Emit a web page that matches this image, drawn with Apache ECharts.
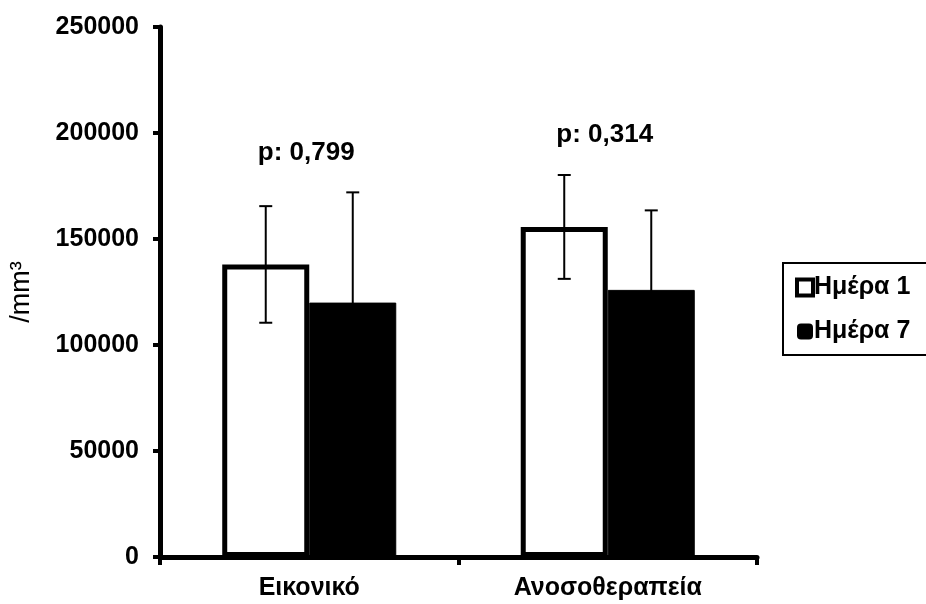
<!DOCTYPE html>
<html>
<head>
<meta charset="utf-8">
<script src="https://cdn.jsdelivr.net/npm/echarts@6/dist/echarts.min.js"></script>
<style>
  html, body { margin: 0; padding: 0; background: #fff; }
  #chart { width: 926px; height: 604px; }
</style>
</head>
<body>
<div id="chart"></div>
<script>
// Groups on the x axis
const categories = ['Εικονικό', 'Ανοσοθεραπεία'];
// Legend / series names
const seriesNames = ['Ημέρα 1', 'Ημέρα 7'];
// Mean values (/mm³)
const day1Values = [138000, 155700];
const day7Values = [120000, 126000];
// Standard deviations (error bars)
const day1Errors = [27500, 24500];
const day7Errors = [52000, 37500];
// p-values shown above each group
const pLabels = ['p: 0,799', 'p: 0,314'];
// Y axis tick range
const yTicks = [0, 50000, 100000, 150000, 200000, 250000];

const FONT = '"Liberation Sans", Arial, sans-serif';
const BAR_PCT = 29.15; // each bar's share of a category band

const chart = echarts.init(document.getElementById('chart'), null, { renderer: 'canvas' });

// Error bars + p-value text, drawn per category
function renderErrors(params, api) {
  const idx = api.value(0);
  const band = api.size([1, 0])[0];
  const half = band * BAR_PCT / 100 / 2;
  const center = api.coord([idx, 0])[0];
  const groups = [
    { x: center - half, mean: day1Values[idx], err: day1Errors[idx] },
    { x: center + half, mean: day7Values[idx], err: day7Errors[idx] }
  ];
  const children = [];
  const capW = 6.5;
  let topY = Infinity;
  groups.forEach(g => {
    const yHi = api.coord([idx, g.mean + g.err])[1];
    const yLo = api.coord([idx, g.mean - g.err])[1];
    topY = Math.min(topY, yHi);
    const style = { stroke: '#000', lineWidth: 2 };
    children.push({ type: 'line', shape: { x1: g.x, y1: yHi, x2: g.x, y2: yLo }, style });
    children.push({ type: 'line', shape: { x1: g.x - capW, y1: yHi, x2: g.x + capW, y2: yHi }, style });
    children.push({ type: 'line', shape: { x1: g.x - capW, y1: yLo, x2: g.x + capW, y2: yLo }, style });
  });
  children.push({
    type: 'text',
    style: {
      x: center - 3, y: topY - 40,
      text: pLabels[idx],
      fill: '#000',
      font: 'bold 26px ' + FONT,
      align: 'center', verticalAlign: 'middle'
    }
  });
  return { type: 'group', children };
}

chart.setOption({
  backgroundColor: '#fff',
  animation: false,
  grid: { left: 160, right: 169, top: 27, bottom: 47, containLabel: false, outerBoundsMode: 'none' },
  legend: {
    orient: 'vertical',
    left: 783,
    top: 263,
    data: [
      { name: seriesNames[0], icon: 'rect', itemStyle: { color: '#fff', borderColor: '#000', borderWidth: 4 } },
      { name: seriesNames[1], icon: 'roundRect', itemStyle: { color: '#000', borderWidth: 0 } }
    ],
    itemWidth: 16,
    itemHeight: 16,
    itemGap: 19,
    padding: [12, 30, 11, 12],
    borderColor: '#000',
    borderWidth: 2,
    textStyle: { fontFamily: FONT, fontWeight: 'bold', fontSize: 25, color: '#000', padding: [0, 0, 0, -4] }
  },
  xAxis: {
    type: 'category',
    data: categories,
    axisLine: { lineStyle: { color: '#000', width: 5 } },
    axisTick: { show: true, length: 8, lineStyle: { color: '#000', width: 4 } },
    axisLabel: { color: '#000', fontFamily: FONT, fontWeight: 'bold', fontSize: 25, margin: 19 }
  },
  yAxis: {
    type: 'value',
    min: yTicks[0],
    max: yTicks[yTicks.length - 1],
    interval: yTicks[1] - yTicks[0],
    name: '/mm³',
    nameLocation: 'middle',
    nameRotate: 90,
    nameGap: 138,
    nameTextStyle: { color: '#000', fontFamily: FONT, fontSize: 27, verticalAlign: 'middle' },
    axisLine: { show: true, lineStyle: { color: '#000', width: 5 } },
    axisTick: { show: true, length: 7, lineStyle: { color: '#000', width: 4 } },
    splitLine: { show: false },
    axisLabel: {
      color: '#000', fontFamily: FONT, fontWeight: 'bold', fontSize: 25, margin: 21,
      formatter: v => String(v)
    }
  },
  series: [
    {
      name: seriesNames[0],
      type: 'bar',
      data: day1Values,
      barWidth: BAR_PCT + '%',
      barGap: '0%',
      itemStyle: { color: '#fff', borderColor: '#000', borderWidth: 5 },
      z: 2
    },
    {
      name: seriesNames[1],
      type: 'bar',
      data: day7Values,
      barWidth: BAR_PCT + '%',
      barGap: '0%',
      itemStyle: { color: '#000', borderColor: '#000', borderWidth: 1 },
      z: 2
    },
    {
      type: 'custom',
      renderItem: renderErrors,
      data: categories.map((c, i) => [i]),
      encode: { x: 0 },
      silent: true,
      z: 5
    }
  ]
});
</script>
</body>
</html>
